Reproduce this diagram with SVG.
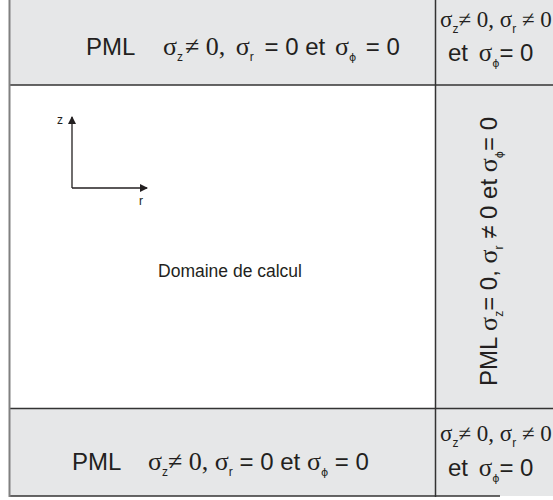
<svg xmlns="http://www.w3.org/2000/svg" width="553" height="500" viewBox="0 0 553 500">
<style>
text{font-family:"Liberation Sans",Arial,sans-serif;fill:#231f20;font-size:24px}
.s{font-family:"Liberation Serif","Times New Roman",serif;font-size:26px}
.s2{font-family:"Liberation Serif","Times New Roman",serif;font-size:23px}
.sub{font-size:12px}
.ph{font-family:"DejaVu Sans",sans-serif;font-size:11px}
.ln{stroke:#333;stroke-width:1.5;fill:none}
.ax{stroke:#231f20;stroke-width:1.3;fill:none}
</style>
<defs>
<marker id="ah" markerWidth="8" markerHeight="8" refX="7" refY="4" orient="auto" markerUnits="userSpaceOnUse">
<path d="M0,0 L8,4 L0,8 z" fill="#231f20"/>
</marker>
</defs>
<rect x="0" y="0" width="553" height="500" fill="#fff"/>
<rect x="9.5" y="0" width="543.5" height="496" fill="#e6e7e8"/>
<rect x="9.5" y="85" width="426" height="323.5" fill="#fff"/>

<g id="connectors">
<line class="ln" x1="9.5" y1="85" x2="553" y2="85"/>
<line class="ln" x1="9.5" y1="408.5" x2="553" y2="408.5"/>
<line class="ln" x1="435.5" y1="0" x2="435.5" y2="497"/>
<line class="ln" x1="9.5" y1="496" x2="500" y2="496"/>
<line x1="9.5" y1="0" x2="9.5" y2="497" stroke="#808080" stroke-width="2"/>
<line class="ax" x1="72" y1="188" x2="72" y2="117" marker-end="url(#ah)"/>
<line class="ax" x1="72" y1="188" x2="147" y2="188" marker-end="url(#ah)"/>
</g>

<g id="axes-labels">
<text x="57" y="124" style="font-size:12px">z</text>
<text x="139" y="205" style="font-size:12px">r</text>
</g>

<g id="top-band">
<text x="86" y="55">PML</text>
<text x="163" y="55"><tspan class="s">σ</tspan><tspan class="sub" dy="6">z</tspan><tspan class="s" dy="-6" dx="2">≠ 0,</tspan><tspan class="s" dx="4"> σ</tspan><tspan class="sub" dy="6">r</tspan><tspan dy="-6" dx="4"> = 0 et </tspan><tspan class="s" dx="3">σ</tspan><tspan class="ph" dy="6">ϕ</tspan><tspan dy="-6" dx="3"> = 0</tspan></text>
</g>

<g id="top-right">
<text x="440" y="27"><tspan class="s2">σ</tspan><tspan class="sub" dy="6">z</tspan><tspan class="s2" dy="-6">≠ 0, σ</tspan><tspan class="sub" dy="6">r</tspan><tspan class="s2" dy="-6"> ≠ 0</tspan></text>
<text x="448" y="61">et <tspan class="s2" dx="4" style="font-size:25px">σ</tspan><tspan class="ph" dy="6">ϕ</tspan><tspan dy="-6">= 0</tspan></text>
</g>

<g id="domain">
<text x="230" y="277" style="font-size:17.5px" text-anchor="middle">Domaine de calcul</text>
</g>

<g id="right-column">
<text transform="translate(497,386) rotate(-90)">PML <tspan class="s">σ</tspan><tspan class="sub" dy="6">z</tspan><tspan dy="-6">= 0, </tspan><tspan class="s">σ</tspan><tspan class="sub" dy="6">r</tspan><tspan dy="-6"> ≠ 0 et </tspan><tspan class="s">σ</tspan><tspan class="ph" dy="6">ϕ</tspan><tspan dy="-6">= 0</tspan></text>
</g>

<g id="bottom-band">
<text x="72" y="470">PML</text>
<text x="148" y="470"><tspan class="s">σ</tspan><tspan class="sub" dy="6">z</tspan><tspan class="s" dy="-6">≠ 0,</tspan><tspan class="s"> σ</tspan><tspan class="sub" dy="6">r</tspan><tspan dy="-6"> = 0 et </tspan><tspan class="s">σ</tspan><tspan class="ph" dy="6">ϕ</tspan><tspan dy="-6"> = 0</tspan></text>
</g>

<g id="bottom-right">
<text x="440" y="441"><tspan class="s2">σ</tspan><tspan class="sub" dy="6">z</tspan><tspan class="s2" dy="-6">≠ 0, σ</tspan><tspan class="sub" dy="6">r</tspan><tspan class="s2" dy="-6"> ≠ 0</tspan></text>
<text x="448" y="476">et <tspan class="s2" dx="4" style="font-size:25px">σ</tspan><tspan class="ph" dy="6">ϕ</tspan><tspan dy="-6">= 0</tspan></text>
</g>
</svg>
